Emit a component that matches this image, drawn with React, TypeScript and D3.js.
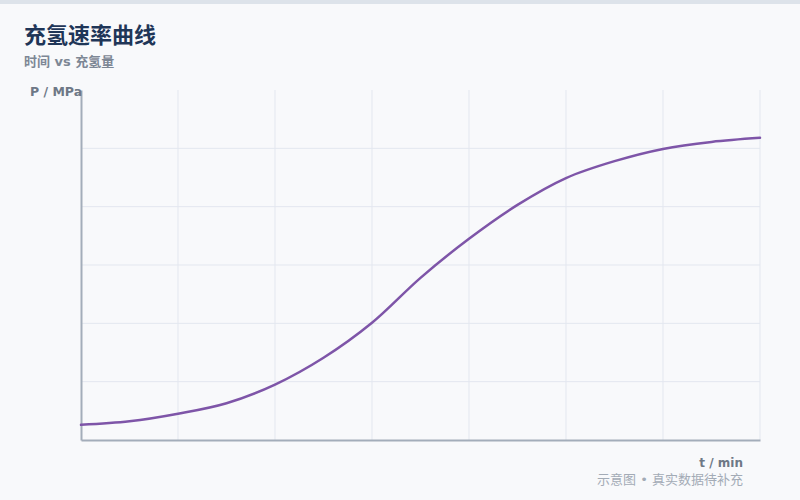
import * as d3 from 'd3';
import { useEffect, useRef } from 'react';

const width = 800;
const height = 500;
const margin = { top: 90, left: 81, bottom: 60, right: 40 };

// t / min
const times = [0, 5, 10, 15, 20, 25, 30, 35, 40, 45, 50, 55, 60, 65, 70];
// P / MPa
const pressure = [0.26, 0.32, 0.45, 0.63, 0.95, 1.41, 2.01, 2.78, 3.45, 4.03, 4.49, 4.78, 4.99, 5.11, 5.18];
const xTicks = [0, 10, 20, 30, 40, 50, 60, 70];
const yTicks = [0, 1, 2, 3, 4, 5, 6];

const font = '"DejaVu Sans", "Noto Sans CJK SC", sans-serif';

function HydrogenChart() {
  const wrapperRef = useRef<HTMLDivElement>(null);

  useEffect(() => {
    const wrapper = d3.select(wrapperRef.current);

    const svg = wrapper
      .append('svg')
      .attr('width', width)
      .attr('height', height)
      .style('position', 'absolute')
      .style('left', 0)
      .style('top', 0)
      .style('font-family', font);

    svg.append('rect').attr('width', width).attr('height', height).attr('fill', '#f8f9fb');
    svg.append('rect').attr('width', width).attr('height', 4).attr('fill', '#dde3ea');

    const xScale = d3
      .scaleLinear()
      .domain([0, 70])
      .range([margin.left, width - margin.right]);

    const yScale = d3
      .scaleLinear()
      .domain([0, 6])
      .range([height - margin.bottom, margin.top]);

    // grid
    const grid = svg.append('g').attr('stroke', '#e3e7ef').attr('stroke-width', 1);
    grid
      .selectAll('line.v')
      .data(xTicks.slice(1))
      .join('line')
      .attr('class', 'v')
      .attr('x1', (d) => xScale(d))
      .attr('x2', (d) => xScale(d))
      .attr('y1', yScale(6))
      .attr('y2', yScale(0));
    grid
      .selectAll('line.h')
      .data(yTicks.slice(1, -1))
      .join('line')
      .attr('class', 'h')
      .attr('x1', xScale(0))
      .attr('x2', xScale(70))
      .attr('y1', (d) => yScale(d))
      .attr('y2', (d) => yScale(d));

    // axes (no tick labels)
    svg
      .append('g')
      .attr('transform', `translate(0, ${yScale(0)})`)
      .call(d3.axisBottom(xScale).tickValues([]).tickSizeOuter(0))
      .call((g) => g.select('.domain').attr('stroke', '#a3adba').attr('stroke-width', 2));
    svg
      .append('g')
      .attr('transform', `translate(${xScale(0)}, 0)`)
      .call(d3.axisLeft(yScale).tickValues([]).tickSizeOuter(0))
      .call((g) => g.select('.domain').attr('stroke', '#a3adba').attr('stroke-width', 2));

    const line = d3
      .line<number>()
      .x((_, i) => xScale(times[i]))
      .y((d) => yScale(d))
      .curve(d3.curveCatmullRom.alpha(0.5));

    svg
      .append('path')
      .datum(pressure)
      .attr('d', line)
      .attr('fill', 'none')
      .attr('stroke', '#7e55a8')
      .attr('stroke-width', 2.5)
      .attr('stroke-linecap', 'round');

    // texts
    svg
      .append('text')
      .attr('x', 24)
      .attr('y', 43)
      .attr('font-size', 22)
      .attr('font-weight', 'bold')
      .attr('fill', '#1f3658')
      .text('充氢速率曲线');
    svg
      .append('text')
      .attr('x', 24)
      .attr('y', 66)
      .attr('font-size', 13)
      .attr('font-weight', 'bold')
      .attr('fill', '#7d8795')
      .text('时间 vs 充氢量');
    svg
      .append('text')
      .attr('x', 30)
      .attr('y', 96)
      .attr('font-size', 12.5)
      .attr('font-weight', 'bold')
      .attr('fill', '#6e7886')
      .text('P / MPa');
    svg
      .append('text')
      .attr('x', 743)
      .attr('y', 467)
      .attr('text-anchor', 'end')
      .attr('font-size', 12)
      .attr('font-weight', 'bold')
      .attr('fill', '#6e7886')
      .text('t / min');
    svg
      .append('text')
      .attr('x', 743)
      .attr('y', 484)
      .attr('text-anchor', 'end')
      .attr('font-size', 13)
      .attr('fill', '#a3abb6')
      .text('示意图 • 真实数据待补充');

    return () => {
      wrapper.select('svg').remove();
    };
  }, []);

  return <div ref={wrapperRef}></div>;
}

export default function App() {
  return <HydrogenChart />;
}
